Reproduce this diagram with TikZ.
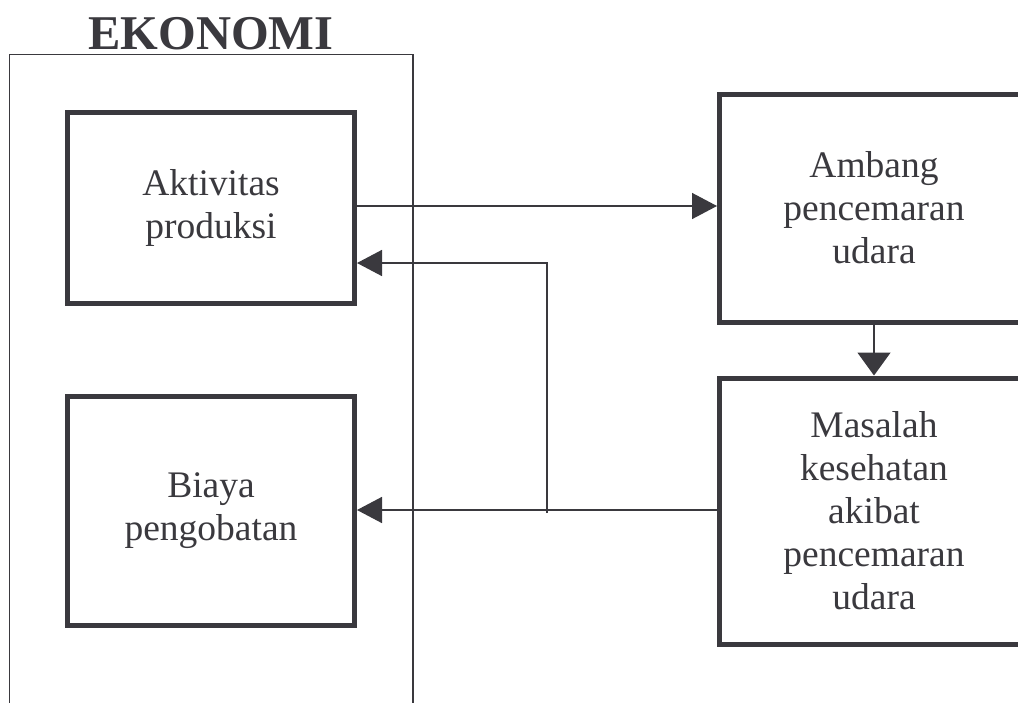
\documentclass[tikz,border=0pt]{standalone}
\usepackage{fontspec}
\setmainfont{Liberation Serif}
\usetikzlibrary{arrows.meta,calc}
\definecolor{ink}{RGB}{58,57,62}
\begin{document}
\begin{tikzpicture}[x=1pt,y=-1pt,
  box/.style={draw=ink,line width=5pt,align=center,text=ink,
    font=\fontsize{37.5}{43}\selectfont,inner sep=0pt},
  conn/.style={draw=ink,line width=1.5pt},
  harr/.style={conn,-{Triangle[length=25pt,width=26pt]}},
  varr/.style={conn,-{Triangle[length=23pt,width=33pt]}}]
\useasboundingbox (0,0) rectangle (1018,702);
\clip (0,0) rectangle (1018,702);
% container
\draw[ink,line width=1.5pt] (9.7,54.7) rectangle (413,760);
\node[anchor=base,text=ink,font=\fontsize{48.5}{56}\selectfont\bfseries] (title) at (211,49) {EKONOMI};
% boxes
\node[box,minimum width=287pt,minimum height=191pt] (A) at (211,208) {Aktivitas\\produksi};
\node[box,minimum width=287pt,minimum height=229pt] (B) at (211,511) {Biaya\\pengobatan};
\node[box,minimum width=309pt,minimum height=228pt] (P) at (874,208) {Ambang\\pencemaran\\udara};
\node[box,minimum width=309pt,minimum height=266pt] (M) at (874,511) {Masalah\\kesehatan\\akibat\\pencemaran\\udara};
% connectors
\draw[harr] ($(A.east)+(0,-2)$) -- ($(P.west)+(0,-2)$);
\draw[varr] (P.south) -- (M.north);
\coordinate (j) at (547,513);
\draw[harr] (j) |- ($(A.east)+(0,55)$);
\draw[harr] ($(M.west)+(0,-1)$) -- ($(B.east)+(0,-1)$);
\end{tikzpicture}
\end{document}
